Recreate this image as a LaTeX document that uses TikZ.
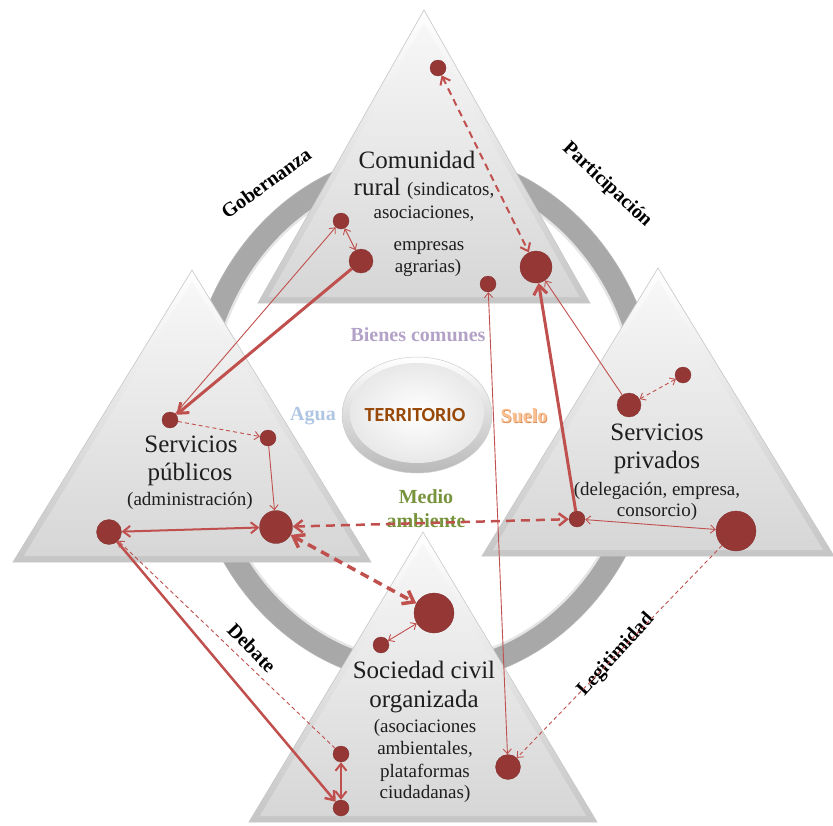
\documentclass[tikz,border=0pt]{standalone}
\usepackage{fontspec}
\setmainfont{Liberation Serif}
\newfontfamily\calibfont{Carlito}
\usetikzlibrary{arrows.meta,shadings}
\definecolor{dotred}{RGB}{149,55,53}
\definecolor{linered}{RGB}{192,80,77}
\definecolor{txt}{RGB}{30,30,30}
\definecolor{bienes}{RGB}{179,162,199}
\definecolor{agua}{RGB}{175,198,226}
\definecolor{suelo}{RGB}{250,192,144}
\definecolor{suelodark}{RGB}{215,140,90}
\definecolor{medio}{RGB}{119,147,60}
\definecolor{terr}{RGB}{152,72,7}
\definecolor{ringgray}{RGB}{168,168,168}
\newcommand{\bevtri}[4]{%
  \pgfmathsetmacro{\hh}{#4-#2}%
  \pgfmathsetmacro{\sd}{10*veclen(#3/10,\hh/10)}%
  \pgfmathsetmacro{\rr}{#3/(#3+\sd)*\hh}%
  \pgfmathsetmacro{\kk}{(\rr-6)/\rr}%
  \pgfmathsetmacro{\iy}{#4-\rr}%
  \shade[top color=white, bottom color=gray!45, draw=gray!45, line width=0.6pt]
    (#1,#2) -- (#1-#3,#4) -- (#1+#3,#4) -- cycle;
  \begin{scope}[shift={(#1,\iy)}, scale=\kk]
    \shade[top color=gray!6, bottom color=gray!32]
      (0,#2-\iy) -- (-#3,#4-\iy) -- (#3,#4-\iy) -- cycle;
  \end{scope}%
}
\tikzset{
  dot/.style={circle, fill=dotred, draw=dotred!85!black, line width=0.3pt, inner sep=0pt},
  conn/.style={draw=linered, line width=1pt, >={Straight Barb[length=3pt 2, width=6pt 2.5]}},
  thinc/.style={conn, line width=0.9pt},
  medc/.style={conn, line width=2pt},
  thickc/.style={conn, line width=3pt},
  dsh/.style={dash pattern=on 4pt off 3pt},
  bigdsh/.style={dash pattern=on 9pt off 6pt},
  bigtxt/.style={font=\fontsize{25}{28}\selectfont, text=txt, inner sep=0pt, anchor=base},
  smalltxt/.style={font=\fontsize{19}{22}\selectfont, text=txt, inner sep=0pt, anchor=base},
  kw/.style={font=\fontsize{20}{22}\selectfont\bfseries, text=black, inner sep=0pt},
  cw/.style={font=\fontsize{20}{22}\selectfont\bfseries, inner sep=0pt}
}
\begin{document}
\begin{tikzpicture}[x=1pt,y=-1pt]
\useasboundingbox (0,0) rectangle (833,825);
% ring
\fill[ringgray, even odd rule] (423,418) ellipse [x radius=237, y radius=266]
  (423,418) ellipse [x radius=213, y radius=242];
\draw[gray!60, line width=0.8pt] (423,418) ellipse [x radius=237, y radius=266];
\draw[white, opacity=0.7, line width=2.5pt] (423,418) ellipse [x radius=214, y radius=243];
% triangles
\bevtri{424}{10}{166}{303}
\bevtri{192}{270}{179}{562}
\bevtri{658}{268}{176}{556}
\bevtri{423}{532}{174}{822}
% centre button
\shade[top color=white, bottom color=gray!55, draw=gray!40, line width=0.5pt]
  (417,415) ellipse [x radius=75, y radius=58];
\shade[inner color=white, outer color=gray!18] (417,413) ellipse [x radius=67, y radius=50];
\node[font=\calibfont\fontsize{20}{22}\selectfont\bfseries, text=terr, inner sep=0pt] (terr) at (415,415) {TERRITORIO};
% centre words
\node[cw, text=bienes] (bien) at (418,335) {Bienes comunes};
\node[cw, text=agua] (agua) at (313,416) {Agua};
\node[cw, text=suelodark] (suelosh) at (524.8,416.8) {Suelo};
\node[cw, text=suelo] (suelo) at (524,416) {Suelo};
\node[cw, text=medio] (medio1) at (426,497) {Medio};
\node[cw, text=medio] (medio2) at (426,521) {ambiente};
% side words
\node[kw, rotate=36] (gob) at (266,183) {Gobernanza};
\node[kw, rotate=-43] (par) at (607,185) {Participación};
\node[kw, rotate=-46] (deb) at (252,648) {Debate};
\node[kw, rotate=48] (leg) at (616,655) {Legitimidad};
% triangle texts
\node[bigtxt] (c1) at (417,168) {Comunidad};
\node[bigtxt] (c2) at (424,195) {rural {\fontsize{19}{22}\selectfont(sindicatos,}};
\node[smalltxt] (c3) at (424,218) {asociaciones,};
\node[smalltxt] (c4) at (429,250) {empresas};
\node[smalltxt] (c5) at (428,272) {agrarias)};
\node[bigtxt] (p1) at (191,452) {Servicios};
\node[bigtxt] (p2) at (190,480) {públicos};
\node[smalltxt] (p3) at (190,505) {(administración)};
\node[bigtxt] (v1) at (657,440) {Servicios};
\node[bigtxt] (v2) at (657,468) {privados};
\node[smalltxt] (v3) at (657,495) {(delegación, empresa,};
\node[smalltxt] (v4) at (657,516) {consorcio)};
\node[bigtxt] (s1) at (424,678) {Sociedad civil};
\node[bigtxt] (s2) at (424,707) {organizada};
\node[smalltxt] (s3) at (425,732) {(asociaciones};
\node[smalltxt] (s4) at (425,754) {ambientales,};
\node[smalltxt] (s5) at (425,777) {plataformas};
\node[smalltxt] (s6) at (425,798) {ciudadanas)};
% dots
\node[dot, minimum size=16pt] (T1) at (438,68) {};
\node[dot, minimum size=16pt] (T2) at (341,221) {};
\node[dot, minimum size=24pt] (T3) at (361,261) {};
\node[dot, minimum size=32pt] (T4) at (536,267) {};
\node[dot, minimum size=16pt] (T5) at (488,284) {};
\node[dot, minimum size=16pt] (L1) at (170,420) {};
\node[dot, minimum size=16pt] (L2) at (268,438) {};
\node[dot, minimum size=25pt] (L3) at (109,532) {};
\node[dot, minimum size=33pt] (L4) at (276,527) {};
\node[dot, minimum size=24pt] (R1) at (629,405) {};
\node[dot, minimum size=16pt] (R2) at (683,375) {};
\node[dot, minimum size=16pt] (R3) at (577,519) {};
\node[dot, minimum size=40pt] (R4) at (736,531) {};
\node[dot, minimum size=40pt] (B1) at (434,613) {};
\node[dot, minimum size=16pt] (B2) at (381,645) {};
\node[dot, minimum size=16pt] (B3) at (341,754) {};
\node[dot, minimum size=16pt] (B4) at (341,808) {};
\node[dot, minimum size=25pt] (B5) at (508,767) {};
% connectors
\draw[conn, line width=2pt, dash pattern=on 7pt off 5pt, <->] (T1) -- (T4);
\draw[thinc, <->] (T2) -- (T3);
\draw[thinc, ->] (L1) -- (T2);
\draw[thickc, ->] (T3) -- (L1);
\draw[thinc, dsh, ->] (L1) -- (L2);
\draw[thinc, ->] (L2) -- (L4);
\draw[medc, <->] (L3) -- (L4);
\draw[conn, line width=2.5pt, bigdsh, <->] (L4) -- (R3);
\draw[conn, line width=3.5pt, bigdsh, <->] (L4) -- (B1);
\draw[thinc, <->] (B2) -- (B1);
\draw[conn, line width=2.5pt, ->] (L3) -- (B4);
\draw[thinc, dsh, ->] (B3) -- (L3);
\draw[medc, <->] (B3) -- (B4);
\draw[thinc, <->] (T5) -- (B5);
\draw[thickc, ->] (R3) -- (T4);
\draw[thinc, ->] (R1) -- (T4);
\draw[thinc, dsh, <->] (R1) -- (R2);
\draw[thinc, <->] (R3) -- (R4);
\draw[thinc, dsh, ->] (R4) -- (B5);
\end{tikzpicture}
\end{document}
